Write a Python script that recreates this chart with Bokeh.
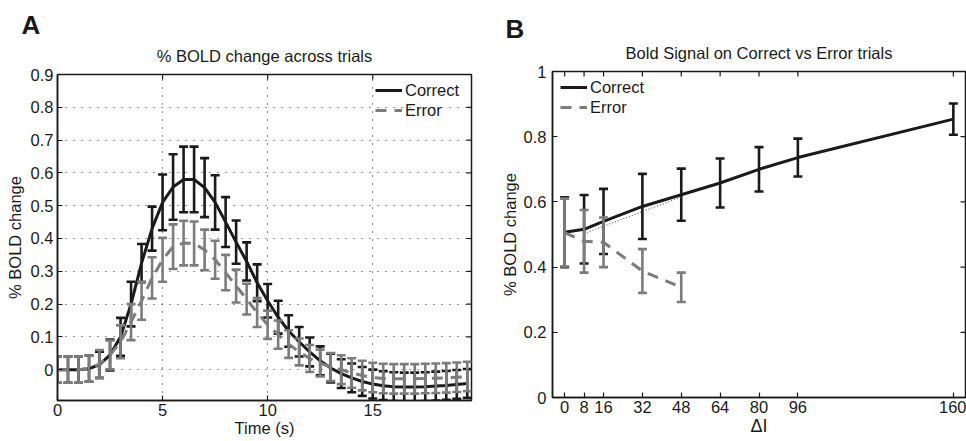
import math
from bokeh.plotting import figure
from bokeh.models import (Range1d, FixedTicker, Title, Legend, LegendItem)
from bokeh.layouts import row, column
from bokeh.embed import file_html
from bokeh.resources import INLINE

FONT = "Liberation Sans"
BLACK = "#1a1a1a"
GRAY = "#7c7c7c"

# ---------------- Panel A data ----------------
time_s = [0.0, 0.5, 1.0, 1.5, 2.0, 2.5, 3.0, 3.5, 4.0, 4.5,
          5.0, 5.5, 6.0, 6.5, 7.0, 7.5, 8.0, 8.5, 9.0, 9.5,
          10.0, 10.5, 11.0, 11.5, 12.0, 12.5, 13.0, 13.5, 14.0, 14.5,
          15.0, 15.5, 16.0, 16.5, 17.0, 17.5, 18.0, 18.5, 19.0, 19.5]
correct_a = [0.0, 0.0, 0.0, 0.003, 0.015, 0.045, 0.10, 0.20, 0.325, 0.43,
             0.51, 0.557, 0.58, 0.58, 0.555, 0.51, 0.45, 0.389, 0.33, 0.265,
             0.21, 0.16, 0.118, 0.085, 0.054, 0.027, 0.005, -0.012, -0.025, -0.036,
             -0.044, -0.049, -0.052, -0.053, -0.053, -0.052, -0.050, -0.048, -0.045, -0.042]
correct_a_sem = [0.04, 0.04, 0.04, 0.04, 0.04, 0.047, 0.058, 0.068, 0.058, 0.067,
                 0.085, 0.10, 0.10, 0.10, 0.09, 0.083, 0.076, 0.066, 0.058, 0.056,
                 0.051, 0.05, 0.048, 0.045, 0.044, 0.044, 0.044, 0.044, 0.044, 0.044,
                 0.044, 0.044, 0.044, 0.044, 0.044, 0.044, 0.044, 0.044, 0.044, 0.044]
error_a = [0.0, 0.0, 0.0, 0.003, 0.017, 0.045, 0.085, 0.145, 0.21, 0.28,
           0.335, 0.375, 0.386, 0.385, 0.365, 0.335, 0.296, 0.255, 0.215, 0.174,
           0.137, 0.107, 0.078, 0.054, 0.034, 0.02, 0.008, 0.0, -0.01, -0.018,
           -0.024, -0.027, -0.028, -0.028, -0.028, -0.027, -0.026, -0.025, -0.023, -0.021]
error_a_sem = [0.04, 0.04, 0.04, 0.04, 0.043, 0.044, 0.05, 0.055, 0.058, 0.063,
               0.067, 0.068, 0.068, 0.067, 0.062, 0.058, 0.054, 0.05, 0.047, 0.044,
               0.043, 0.043, 0.042, 0.041, 0.041, 0.041, 0.043, 0.044, 0.045, 0.045,
               0.045, 0.045, 0.045, 0.045, 0.045, 0.045, 0.045, 0.045, 0.045, 0.045]
a_xlim = (0, 19.7)
a_ylim = (-0.094, 0.9)
a_xticks = [0, 5, 10, 15]
a_yticks = [0, 0.1, 0.2, 0.3, 0.4, 0.5, 0.6, 0.7, 0.8, 0.9]
a_ylabels = ["0", "0.1", "0.2", "0.3", "0.4", "0.5", "0.6", "0.7", "0.8", "0.9"]

# ---------------- Panel B data ----------------
delta_i = [0, 8, 16, 32, 48, 64, 80, 96, 160]
correct_b = [0.507, 0.516, 0.54, 0.586, 0.622, 0.658, 0.70, 0.736, 0.854]
correct_b_sem = [0.107, 0.105, 0.10, 0.10, 0.08, 0.075, 0.068, 0.058, 0.048]
delta_i_err = [0, 8, 16, 32, 48]
error_b = [0.506, 0.479, 0.476, 0.388, 0.338]
error_b_sem = [0.104, 0.096, 0.076, 0.067, 0.045]
fit_x = [8, 48]
fit_y = [0.503, 0.615]
b_xlim = (-5, 165)
b_ylim = (0, 1)
b_xticks = [0, 8, 16, 32, 48, 64, 80, 96, 160]
b_yticks = [0, 0.2, 0.4, 0.6, 0.8, 1.0]
b_ylabels = ["0", "0.2", "0.4", "0.6", "0.8", "1"]

TXT = "16.5px"


def style_axis(ax, ticks):
    ax.ticker = FixedTicker(ticks=ticks)
    ax.major_tick_in = 5
    ax.major_tick_out = 0
    ax.minor_tick_line_color = None
    ax.axis_line_color = BLACK
    ax.axis_line_width = 1.5
    ax.major_tick_line_color = BLACK
    ax.major_tick_line_width = 1.2
    ax.major_label_text_font = FONT
    ax.major_label_text_font_size = TXT
    ax.major_label_text_color = BLACK
    ax.axis_label_text_font = FONT
    ax.axis_label_text_font_size = TXT
    ax.axis_label_text_font_style = "normal"
    ax.axis_label_text_color = BLACK


def box_ticks(p, xticks, yticks, xlim, ylim):
    # inward tick marks on the top and right edges (half of each mark is clipped)
    p.scatter(x=xticks, y=[ylim[1]] * len(xticks), marker="dash", size=10,
              angle=math.pi / 2, line_color=BLACK, line_width=1.2)
    p.scatter(x=[xlim[1]] * len(yticks), y=yticks, marker="dash", size=10,
              line_color=BLACK, line_width=1.2)


def errbars(p, x, mean, sem, color):
    lo = [m - s for m, s in zip(mean, sem)]
    hi = [m + s for m, s in zip(mean, sem)]
    p.segment(x0=x, y0=lo, x1=x, y1=hi, line_color=color, line_width=2.6)
    p.scatter(x=x + x, y=lo + hi, marker="dash", size=9, line_color=color,
              line_width=2.6)


def add_titles(p, main, letter, offset, main_standoff, letter_standoff):
    p.add_layout(Title(text=main, align="center", text_font=FONT,
                       text_font_size=TXT, text_font_style="normal",
                       text_color=BLACK, standoff=main_standoff), "above")
    p.add_layout(Title(text=letter, align="left", text_font=FONT,
                       text_font_size="26px", text_font_style="bold",
                       text_color=BLACK, offset=offset,
                       standoff=letter_standoff), "above")


def make_legend(r1, r2, loc):
    return Legend(items=[LegendItem(label="Correct", renderers=[r1]),
                         LegendItem(label="Error", renderers=[r2])],
                  location=loc, background_fill_alpha=0, border_line_alpha=0,
                  glyph_width=27, glyph_height=20, label_height=20,
                  label_standoff=3, spacing=0, padding=6, margin=0,
                  label_text_font=FONT, label_text_font_size=TXT,
                  label_text_color=BLACK)


# ---------------- Panel A ----------------
pa = figure(width=490, height=441, x_range=Range1d(*a_xlim),
            y_range=Range1d(*a_ylim), output_backend="svg",
            toolbar_location=None, min_border_left=57, min_border_right=19,
            min_border_top=74, min_border_bottom=41)
pa.background_fill_color = "white"
pa.border_fill_color = "white"
pa.outline_line_color = BLACK
pa.outline_line_width = 1.5

style_axis(pa.xaxis[0], a_xticks)
style_axis(pa.yaxis[0], a_yticks)
pa.yaxis[0].major_label_overrides = {v: s for v, s in zip(a_yticks, a_ylabels)}
pa.xaxis[0].axis_label = "Time (s)"
pa.yaxis[0].axis_label = "% BOLD change"
pa.xaxis[0].major_label_standoff = 3
pa.xaxis[0].axis_label_standoff = 0
pa.yaxis[0].major_label_standoff = 4
pa.yaxis[0].axis_label_standoff = 4

pa.xgrid.ticker = FixedTicker(ticks=a_xticks)
pa.ygrid.ticker = FixedTicker(ticks=a_yticks)
for g in (pa.xgrid[0], pa.ygrid[0]):
    g.grid_line_color = "#333333"
    g.grid_line_dash = "1 7"
    g.grid_line_width = 1.2

box_ticks(pa, a_xticks, a_yticks, a_xlim, a_ylim)
errbars(pa, time_s, correct_a, correct_a_sem, BLACK)
la1 = pa.line(time_s, correct_a, line_color=BLACK, line_width=3)
errbars(pa, time_s, error_a, error_a_sem, GRAY)
la2 = pa.line(time_s, error_a, line_color=GRAY, line_width=3, line_dash="11 8")

pa.add_layout(make_legend(la1, la2, (312, 274)))
add_titles(pa, "% BOLD change across trials", "A", -36, 20, -11)

# ---------------- Panel B ----------------
pb = figure(width=476, height=441, x_range=Range1d(*b_xlim),
            y_range=Range1d(*b_ylim), output_backend="svg",
            toolbar_location=None, min_border_left=62, min_border_right=1,
            min_border_top=71, min_border_bottom=44)
pb.background_fill_color = "white"
pb.border_fill_color = "white"
pb.outline_line_color = BLACK
pb.outline_line_width = 1.5
pb.grid.visible = False

style_axis(pb.xaxis[0], b_xticks)
style_axis(pb.yaxis[0], b_yticks)
pb.yaxis[0].major_label_overrides = {v: s for v, s in zip(b_yticks, b_ylabels)}
pb.xaxis[0].axis_label = "\u0394I"
pb.xaxis[0].axis_label_text_font_size = "18px"
pb.yaxis[0].axis_label = "% BOLD change"
pb.xaxis[0].major_label_standoff = 3
pb.xaxis[0].axis_label_standoff = 0
pb.yaxis[0].major_label_standoff = 6
pb.yaxis[0].axis_label_standoff = 2

box_ticks(pb, b_xticks, b_yticks, b_xlim, b_ylim)
errbars(pb, delta_i, correct_b, correct_b_sem, BLACK)
lb1 = pb.line(delta_i, correct_b, line_color=BLACK, line_width=3)
pb.line(fit_x, fit_y, line_color="#666666", line_width=1.2, line_dash="1 2")
errbars(pb, delta_i_err, error_b, error_b_sem, GRAY)
lb2 = pb.line(delta_i_err, error_b, line_color=GRAY, line_width=3, line_dash="11 8")

pb.add_layout(make_legend(lb1, lb2, (2, 274)))
add_titles(pb, "Bold Signal on Correct vs Error trials", "B", -47, 20, -25)

layout = row(column(pa), column(pb))
open("out.html", "w").write(file_html(layout, INLINE))
